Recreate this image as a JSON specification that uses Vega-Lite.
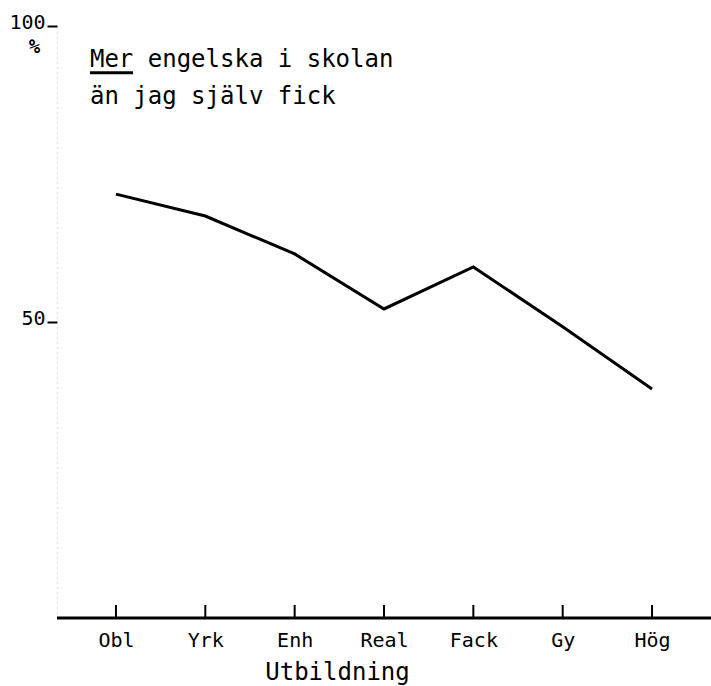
{
  "$schema": "https://vega.github.io/schema/vega-lite/v6.json",
  "width": 654,
  "height": 592,
  "autosize": "none",
  "padding": {"left": 57, "top": 26, "right": 0, "bottom": 68},
  "background": "white",
  "config": {
    "view": {"stroke": null},
    "font": "DejaVu Sans Mono",
    "axis": {"labelColor": "black", "titleColor": "black", "grid": false, "labelFont": "DejaVu Sans Mono", "titleFont": "DejaVu Sans Mono"}
  },
  "datasets": {
    "series": [
      {"utbildning": "Obl", "procent": 71.6},
      {"utbildning": "Yrk", "procent": 67.9},
      {"utbildning": "Enh", "procent": 61.5},
      {"utbildning": "Real", "procent": 52.2},
      {"utbildning": "Fack", "procent": 59.3},
      {"utbildning": "Gy", "procent": 49.2},
      {"utbildning": "Hög", "procent": 38.7}
    ],
    "caption1": [{"text": "Mer engelska i skolan"}],
    "caption2": [{"text": "än jag själv fick"}],
    "underline": [{"u": 1}],
    "baseline": [{"v": 0}]
  },
  "layer": [
    {
      "data": {"name": "series"},
      "mark": {"type": "rule", "color": "black", "strokeWidth": 2},
      "encoding": {
        "x": {
          "field": "utbildning", "type": "nominal", "sort": null,
          "scale": {"type": "point", "padding": 0.66},
          "axis": {
            "title": "Utbildning", "labelAngle": 0, "ticks": false, "domain": false,
            "labelFontSize": 20, "labelPadding": 12, "labelBaseline": "top",
            "titleFontSize": 24, "titleFontWeight": "normal", "titlePadding": 10,
            "titleX": 280, "titleAlign": "center"
          }
        },
        "y": {"datum": 0, "type": "quantitative"},
        "y2": {"datum": 2.2}
      }
    },
    {
      "data": {"name": "series"},
      "mark": {"type": "line", "color": "black", "strokeWidth": 3},
      "encoding": {
        "x": {"field": "utbildning", "type": "nominal", "sort": null},
        "y": {
          "field": "procent", "type": "quantitative",
          "scale": {"domain": [0, 100], "nice": false, "zero": true},
          "axis": {
            "values": [50, 100], "title": "%", "titleAngle": 0,
            "titleX": -23, "titleY": 20, "titleAlign": "center", "titleBaseline": "middle",
            "titleFontSize": 19, "titleFontWeight": "bold",
            "labelFontSize": 20, "labelPadding": 2, "labelOffset": -4,
            "tickSize": 10, "tickWidth": 2, "tickColor": "black",
            "domainColor": "#bbbbbb", "domainWidth": 1, "domainDash": [1, 4]
          }
        }
      }
    },
    {
      "data": {"name": "baseline"},
      "mark": {"type": "rule", "color": "black", "strokeWidth": 3},
      "encoding": {"y": {"field": "v", "type": "quantitative"}}
    },
    {
      "data": {"name": "underline"},
      "mark": {"type": "rule", "color": "black", "strokeWidth": 3, "xOffset": -26, "x2Offset": 17, "yOffset": 6, "y2Offset": 6},
      "encoding": {
        "x": {"datum": "Obl", "type": "nominal"},
        "x2": {"datum": "Obl"},
        "y": {"datum": 93.1, "type": "quantitative"},
        "y2": {"datum": 93.1}
      }
    },
    {
      "data": {"name": "caption1"},
      "mark": {"type": "text", "align": "left", "baseline": "alphabetic", "fontSize": 24, "dx": -26, "color": "black"},
      "encoding": {
        "x": {"datum": "Obl", "type": "nominal"},
        "y": {"datum": 93.1, "type": "quantitative"},
        "text": {"field": "text"}
      }
    },
    {
      "data": {"name": "caption2"},
      "mark": {"type": "text", "align": "left", "baseline": "alphabetic", "fontSize": 24, "dx": -26, "color": "black"},
      "encoding": {
        "x": {"datum": "Obl", "type": "nominal"},
        "y": {"datum": 86.9, "type": "quantitative"},
        "text": {"field": "text"}
      }
    }
  ]
}
